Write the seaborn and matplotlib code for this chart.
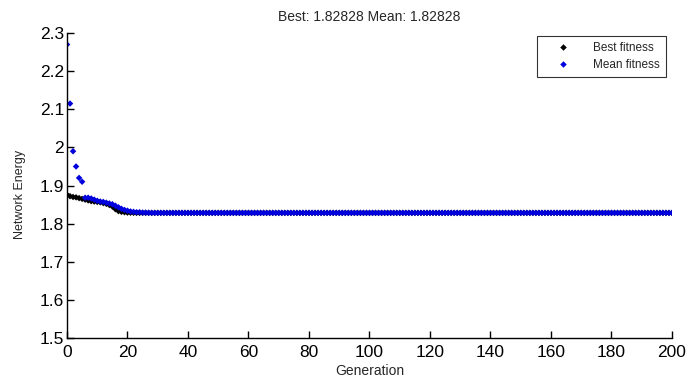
import numpy as np
import pandas as pd
import matplotlib
matplotlib.use("Agg")
import matplotlib.pyplot as plt
import seaborn as sns

sns.set_style("white")
plt.rcParams['font.family'] = ['Liberation Sans', 'DejaVu Sans']

best_early = [1.876, 1.872, 1.870, 1.869, 1.867, 1.865, 1.863, 1.861, 1.859, 1.858,
              1.857, 1.856, 1.854, 1.852, 1.849, 1.845, 1.838, 1.833, 1.831, 1.830,
              1.829, 1.8288, 1.8285]
mean_early = [2.270, 2.115, 1.990, 1.950, 1.920, 1.910, 1.868, 1.868, 1.866, 1.863,
              1.860, 1.858, 1.857, 1.855, 1.853, 1.851, 1.847, 1.843, 1.839, 1.836,
              1.834, 1.832, 1.831, 1.830, 1.830, 1.829, 1.829, 1.8286]
final_value = 1.82828
n_gen = 201

best = best_early + [final_value] * (n_gen - len(best_early))
mean = mean_early + [final_value] * (n_gen - len(mean_early))
generations = list(range(n_gen))

df = pd.DataFrame({"Generation": generations * 2,
                   "value": best + mean,
                   "series": ["Best fitness"] * n_gen + ["Mean fitness"] * n_gen})

fig = plt.figure(figsize=(7, 3.8), dpi=100)
ax = fig.add_axes([0.0957, 0.1105, 0.8643, 0.8025])

sns.scatterplot(data=df, x="Generation", y="value", hue="series",
                palette={"Best fitness": "black", "Mean fitness": "#0000dd"},
                marker="D", s=11, linewidth=0, ax=ax)

ax.set_xlim(0, 200)
ax.set_ylim(1.5, 2.3)
ax.set_xticks(np.arange(0, 201, 20))
ax.set_yticks(np.arange(1.5, 2.31, 0.1))
ax.set_yticklabels(["1.5", "1.6", "1.7", "1.8", "1.9", "2", "2.1", "2.2", "2.3"])
ax.tick_params(direction="in", length=5, width=1, labelsize=12.5, colors="black",
               bottom=True, left=True)
ax.tick_params(axis="x", pad=5)
ax.tick_params(axis="y", pad=2)
for s in ["top", "right"]:
    ax.spines[s].set_visible(False)
for s in ["left", "bottom"]:
    ax.spines[s].set_color("black")
    ax.spines[s].set_linewidth(1)
ax.set_xlabel("Generation", fontsize=10, labelpad=3)
ax.set_ylabel("Network Energy", fontsize=9)
ax.yaxis.set_label_coords(-0.068, 0.47)
ax.set_title("Best: 1.82828 Mean: 1.82828", fontsize=10, pad=9)

leg = ax.legend(loc="upper right", bbox_to_anchor=(0.99, 0.99), borderaxespad=0,
                fontsize=8.5, frameon=True, fancybox=False, edgecolor="black",
                borderpad=0.5, handlelength=3.4, handletextpad=0.9,
                markerscale=1.0, labelspacing=0.4)
leg.get_frame().set_linewidth(0.8)

fig.savefig("out.png", dpi=100, facecolor="white")
